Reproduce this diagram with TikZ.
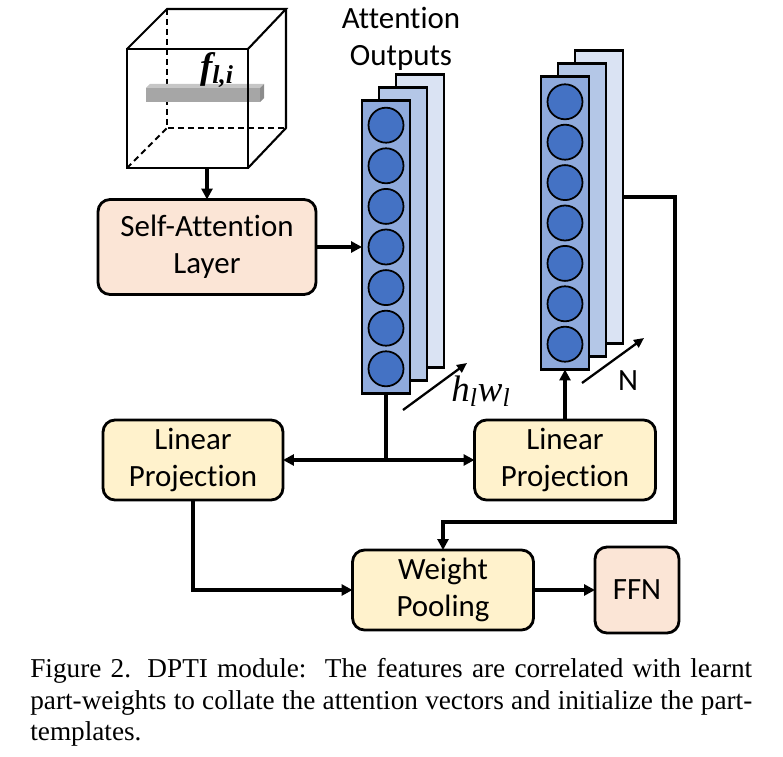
\documentclass[tikz,border=0pt]{standalone}
\usepackage{fontspec}
\setmainfont{Carlito}[Ligatures=NoCommon]
\newfontfamily\serif{Liberation Serif}
\usepackage{tikz}
\usetikzlibrary{arrows.meta,positioning}
\definecolor{peach}{HTML}{FBE5D6}
\definecolor{cream}{HTML}{FFF2CC}
\definecolor{blueA}{HTML}{8FAADC}
\definecolor{blueB}{HTML}{B4C7E7}
\definecolor{blueC}{HTML}{DAE3F3}
\definecolor{dotblue}{HTML}{4472C4}
\tikzset{
 >={Triangle[length=0.22cm,width=0.22cm]},
 box/.style={draw,rounded corners=0.24cm,line width=1.6pt,align=center,
   font=\fontsize{17.6}{21}\selectfont,inner sep=0pt,outer sep=0pt},
 layer/.style={draw,line width=1.3pt,minimum width=0.96cm,minimum height=5.86cm,
   inner sep=0pt,outer sep=0pt},
 unit/.style={circle,draw,line width=1pt,fill=dotblue,minimum size=0.7cm,inner sep=0pt},
 conn/.style={line width=2.2pt},
 thin conn/.style={line width=1.3pt,-{Triangle[length=0.2cm,width=0.18cm]}},
 cubeline/.style={line width=1.2pt},
 lbl/.style={font=\fontsize{17.6}{21}\selectfont,align=center,inner sep=0pt}
}

\begin{document}
\begin{tikzpicture}[x=0.02cm,y=-0.02cm]
\useasboundingbox (0,0) rectangle (783,756);

% feature cube
\draw[cubeline,dashed,dash pattern=on 0.12cm off 0.08cm] (167,9) -- (167,128) -- (286,128);
\draw[cubeline,dashed,dash pattern=on 0.12cm off 0.08cm] (127,168) -- (167,128);
\fill[gray!70] (146,88) rectangle (260,102);
\fill[gray!45] (146,88) -- (150,84) -- (264,84) -- (260,88) -- cycle;
\fill[gray!90] (260,88) -- (264,84) -- (264,98) -- (260,102) -- cycle;
\draw[cubeline] (127,49) rectangle (248,168);
\draw[cubeline] (127,49) -- (167,9) -- (286,9) -- (248,49);
\draw[cubeline] (286,9) -- (286,128) -- (248,168);
\path (217,70) node[name=feat,inner sep=0pt] {\serif\bfseries\itshape\fontsize{21}{21}\selectfont f\textsubscript{l,i}};
\coordinate (cubebot) at (207,168);

\path (207,247) node[box,fill=peach,minimum width=4.36cm,minimum height=1.9cm,name=selfatt] {Self-Attention\\Layer};

% attention outputs
\path (386,247) node[layer,name=att1] {};
\path (att1)+(34,-26) node[layer,fill=blueC,name=att3] {};
\path (att1)+(17,-13) node[layer,fill=blueB,name=att2] {};
\path (386,247) node[layer,fill=blueA] {};
\foreach \k in {1,...,7}
  \path (att1)+(0,{(\k-4)*40.6}) node[unit,name=a\k] {};
\path (401,39) node[lbl,name=attlbl] {Attention\\Outputs};

% part templates
\path (565,223) node[layer,name=rt1] {};
\path (rt1)+(34,-26) node[layer,fill=blueC,name=rt3] {};
\path (rt1)+(17,-13) node[layer,fill=blueB,name=rt2] {};
\path (565,223) node[layer,fill=blueA] {};
\foreach \k in {1,...,7}
  \path (rt1)+(0,{(\k-4)*40.4}) node[unit,name=r\k] {};

\coordinate (hwtail) at (403,410);
\coordinate (hwhead) at (467,363);
\path[thin conn] (hwtail) edge (hwhead);
\path (481,391) node[name=hw,inner sep=0pt] {\serif\itshape\fontsize{21}{21}\selectfont h\textsubscript{l}w\textsubscript{l}};
\coordinate (ntail) at (582,383);
\coordinate (nhead) at (644,338);
\path[thin conn] (ntail) edge (nhead);
\path (628,381) node[lbl,name=nlbl] {N};

\path (193,460) node[box,fill=cream,minimum width=3.6cm,minimum height=1.6cm,name=lpleft] {Linear\\Projection};
\path (565,460) node[box,fill=cream,minimum width=3.62cm,minimum height=1.6cm,name=lpright] {Linear\\Projection};
\path (443,590) node[box,fill=cream,minimum width=3.62cm,minimum height=1.6cm,name=wpool] {Weight\\Pooling};
\path (637,590) node[box,fill=peach,minimum width=1.68cm,minimum height=1.72cm,name=ffn] {FFN};

\coordinate (split) at (att1.south |- lpleft.east);
\coordinate (bend) at (675,522);

\path[->,conn] (cubebot) edge (selfatt.north);
\path[->,conn] (selfatt.east) edge (att1.west);
\draw[conn] (att1.south) -- (split);
\path[->,conn] (split) edge (lpleft.east);
\path[->,conn] (split) edge (lpright.west);
\path[->,conn] (lpright.north) edge (rt1.south);
\draw[->,conn] (rt3.east) -| (bend) -| (wpool.north);
\draw[->,conn] (lpleft.south) |- (wpool.west);
\path[->,conn] (wpool.east) edge (ffn.west);

\path (30,658) node[name=caption,anchor=north west,text width=14.44cm,align=justify,inner sep=0pt,
  font=\serif\fontsize{15.5}{18}\selectfont] {Figure 2. DPTI module:\ \ The features are correlated with learnt\linebreak part-weights to collate the attention vectors and initialize the part-\linebreak templates.};
\end{tikzpicture}
\end{document}
